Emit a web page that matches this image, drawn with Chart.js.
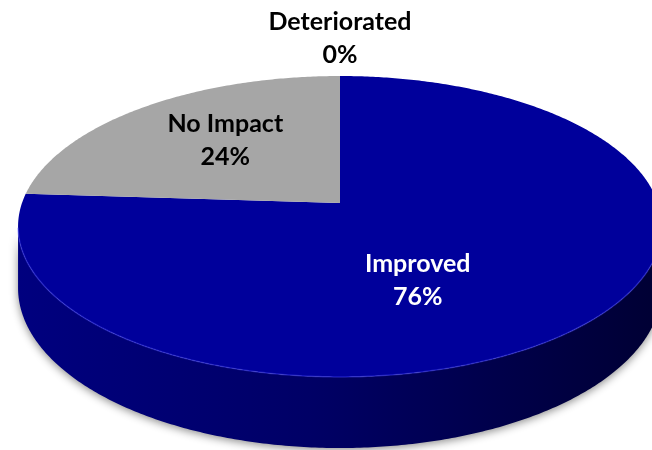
<!DOCTYPE html>
<html>
<head>
<meta charset="utf-8">
<script src="https://cdn.jsdelivr.net/npm/chart.js@4.4.1/dist/chart.umd.min.js"></script>
<style>
  html, body { margin: 0; padding: 0; background: #ffffff; }
  #wrap { width: 652px; height: 450px; position: relative; }
</style>
</head>
<body>
<div id="wrap"><canvas id="pieChart"></canvas></div>
<script>
// data
const categories = ["Improved", "No Impact", "Deteriorated"];
const shares = [76, 24, 0];
const shareLabels = ["76%", "24%", "0%"];

// styles
const topColors = ["#00009b", "#a6a6a6", "#7f7f7f"];
const labelColors = ["#ffffff", "#000000", "#000000"];
// small hand nudges so the text sits where Excel put it
const labelNudge = [[-50, 23], [-2, 1], [0, 0]];

// perspective of the disk: pie centre, half axes and tilt
const view = { cx: 340, cy: 203, a: 318, b: 146.8, c: -0.156, depth: 60 };

function project(theta, r) {
    const u = r * Math.cos(theta);
    const v = r * Math.sin(theta);
    const d = 1 + view.c * v;
    return { x: view.cx + view.a * u / d, y: view.cy + view.b * v / d, d: d };
}

const pie3d = {
    id: "pie3d",
    beforeDatasetsDraw(chart) {
        const ctx = chart.ctx;
        const arcs = chart.getDatasetMeta(0).data;
        const step = 0.01;

        // visible front of the rim, between the two tangent points
        const frontStart = Math.asin(-view.c);
        const frontEnd = Math.PI - frontStart;

        ctx.save();
        arcs.forEach((arc) => {
            const { startAngle, endAngle } = arc.getProps(["startAngle", "endAngle"], true);
            const s = Math.max(startAngle, frontStart);
            const e = Math.min(endAngle, frontEnd);
            if (e <= s) return;

            const top = [];
            for (let t = s; t < e; t += step) top.push(project(t, 1));
            top.push(project(e, 1));

            const grad = ctx.createLinearGradient(18, 0, 662, 0);
            grad.addColorStop(0, "#00007f");
            grad.addColorStop(0.45, "#000066");
            grad.addColorStop(0.75, "#00004a");
            grad.addColorStop(1, "#000033");

            ctx.beginPath();
            top.forEach((p, k) => (k ? ctx.lineTo(p.x, p.y) : ctx.moveTo(p.x, p.y)));
            for (let k = top.length - 1; k >= 0; k--) {
                const p = top[k];
                ctx.lineTo(p.x, p.y + view.depth / p.d);
            }
            ctx.closePath();
            ctx.shadowColor = "rgba(0, 0, 0, 0.45)";
            ctx.shadowBlur = 8;
            ctx.shadowOffsetY = 2;
            ctx.fillStyle = grad;
            ctx.fill();
        });
        ctx.restore();

        // top faces
        ctx.save();
        arcs.forEach((arc, i) => {
            const { startAngle, endAngle } = arc.getProps(["startAngle", "endAngle"], true);
            if (endAngle - startAngle <= 0) return;
            const c0 = project(0, 0);
            ctx.beginPath();
            ctx.moveTo(c0.x, c0.y);
            for (let t = startAngle; t < endAngle; t += step) {
                const p = project(t, 1);
                ctx.lineTo(p.x, p.y);
            }
            const pe = project(endAngle, 1);
            ctx.lineTo(pe.x, pe.y);
            ctx.closePath();
            ctx.fillStyle = topColors[i];
            ctx.fill();
        });

        // thin light rim on the front edge
        ctx.beginPath();
        for (let t = frontStart; t <= frontEnd; t += step) {
            const p = project(t, 1);
            if (t === frontStart) ctx.moveTo(p.x, p.y); else ctx.lineTo(p.x, p.y);
        }
        ctx.strokeStyle = "rgba(70, 70, 255, 0.4)";
        ctx.lineWidth = 1.5;
        ctx.stroke();
        ctx.restore();
        return false;
    },
    afterDraw(chart) {
        const ctx = chart.ctx;
        const arcs = chart.getDatasetMeta(0).data;
        ctx.save();
        ctx.font = "bold 25px Lato, 'Liberation Sans', sans-serif";
        ctx.textAlign = "center";
        ctx.textBaseline = "alphabetic";
        arcs.forEach((arc, i) => {
            const { startAngle, endAngle } = arc.getProps(["startAngle", "endAngle"], true);
            const mid = (startAngle + endAngle) / 2;
            let x, y1, y2;
            if (shares[i] === 0) {
                const p = project(mid, 1);
                x = p.x + labelNudge[i][0];
                y2 = p.y - 13 + labelNudge[i][1];
                y1 = y2 - 33;
            } else {
                const p = project(mid, 0.55);
                x = p.x + labelNudge[i][0];
                const m = p.y + labelNudge[i][1];
                y1 = m - 16.5;
                y2 = m + 16.5;
            }
            ctx.fillStyle = labelColors[i];
            ctx.fillText(categories[i], x, y1);
            ctx.fillText(shareLabels[i], x, y2);
        });
        ctx.restore();
    }
};

new Chart(document.getElementById("pieChart"), {
    type: "pie",
    data: {
        labels: categories,
        datasets: [{
            data: shares,
            backgroundColor: topColors,
            borderWidth: 0,
        }],
    },
    options: {
        responsive: true,
        maintainAspectRatio: false,
        animation: false,
        plugins: {
            legend: { display: false },
            tooltip: { enabled: false },
        },
    },
    plugins: [pie3d],
});
</script>
</body>
</html>
